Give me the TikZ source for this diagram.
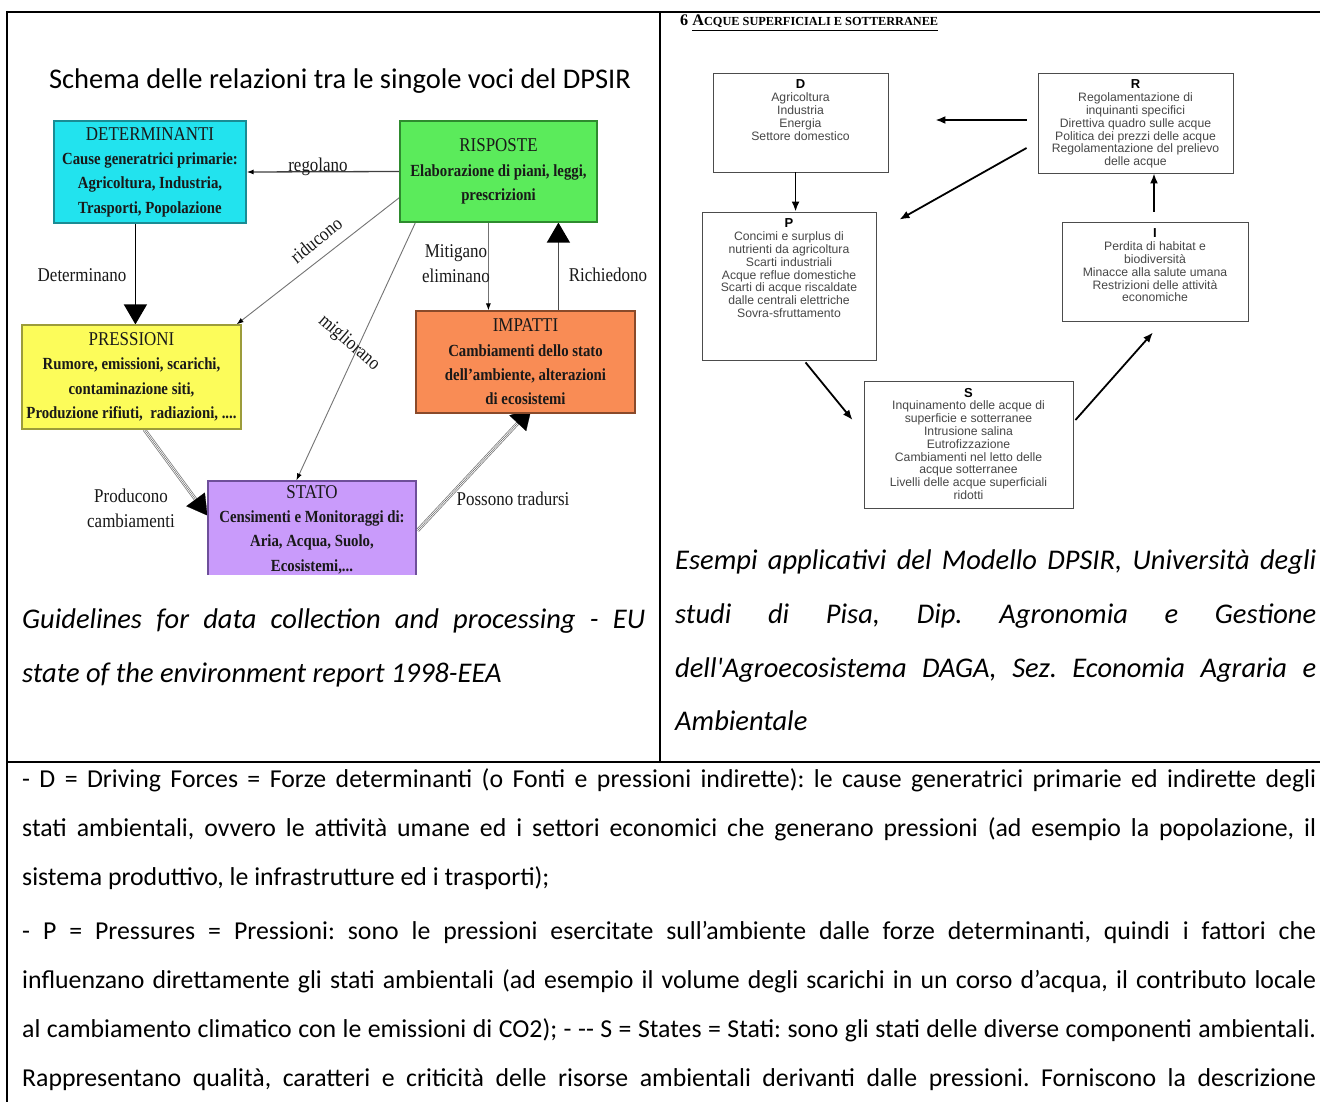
\documentclass[tikz,border=0pt]{standalone}
\usepackage{fontspec}
\usepackage{graphicx}
\setmainfont{Carlito}
\newfontfamily\cserif[FakeStretch=0.87]{Liberation Serif}
\newfontfamily\lserif{Liberation Serif}
\newfontfamily\arialf{Liberation Sans}
\usetikzlibrary{arrows.meta,calc}
\pgfdeclarelayer{background}
\pgfsetlayers{background,main}
\definecolor{cyanbox}{HTML}{22E3EE}
\definecolor{cyanline}{HTML}{1A8C94}
\definecolor{greenbox}{HTML}{5BEB5B}
\definecolor{greenline}{HTML}{2E8B2E}
\definecolor{yellowbox}{HTML}{FCFC5A}
\definecolor{yellowline}{HTML}{9C9C3A}
\definecolor{orangebox}{HTML}{F98C55}
\definecolor{orangeline}{HTML}{8A4A2A}
\definecolor{purplebox}{HTML}{C99BFB}
\definecolor{purpleline}{HTML}{6E4F9A}
\newcommand\hdr[1]{{\mdseries\fontsize{19.5}{24.3}\selectfont #1}}
\frenchspacing
\begin{document}
\begin{tikzpicture}[x=1pt,y=-1pt,
  lbox/.style={draw, line width=1.2pt, inner sep=0pt, align=center,
    font=\cserif\bfseries\fontsize{17}{24.3}\selectfont, text=black!90},
  lbl/.style={font=\cserif\fontsize{19.5}{25}\selectfont, inner sep=0pt, align=center, text=black!90},
  thinarr/.style={draw=black!55, line width=0.9pt, -{Latex[length=7pt,width=5pt,color=black]}},
  bigtip/.style={draw=black, line width=0.2pt, -{Triangle[length=20pt,width=23pt,color=black]}},
  dbl/.style={draw=black!50, line width=0.8pt, double=white, double distance=2pt},
  rbox/.style={draw=black!70, line width=0.9pt, inner sep=0pt,
    font=\arialf\fontsize{12.2}{12.8}\selectfont, text=black!72},
  rarr/.style={draw=black, line width=1.8pt, -{Latex[length=10pt,width=8pt]}},
  body/.style={anchor=base west, inner sep=0pt, font=\fontsize{25.8}{30}\selectfont},
  capt/.style={anchor=base west, inner sep=0pt, font=\itshape\fontsize{28.5}{32}\selectfont}
]
\useasboundingbox (0,0) rectangle (1320,1102);

% ---------------- left diagram ----------------
\node[anchor=base, inner sep=0pt, font=\fontsize{28.5}{32}\selectfont] (ltitle) at (340,89)
  {Schema delle relazioni tra le singole voci del DPSIR};

\node[lbox, fill=cyanbox, draw=cyanline, minimum width=192pt, minimum height=102pt] (DET) at (150,172)
  {\hdr{DETERMINANTI}\\Cause generatrici primarie:\\Agricoltura, Industria,\\Trasporti, Popolazione};
\node[lbox, fill=greenbox, draw=greenline, minimum width=197pt, minimum height=101pt] (RIS) at (498.5,171.5)
  {\hdr{RISPOSTE}\\Elaborazione di piani, leggi,\\prescrizioni};
\node[lbox, fill=yellowbox, draw=yellowline, minimum width=219pt, minimum height=104pt] (PRE) at (131.5,377)
  {\hdr{PRESSIONI}\\Rumore, emissioni, scarichi,\\contaminazione siti,\\Produzione rifiuti,~ radiazioni, ....};
\node[lbox, fill=orangebox, draw=orangeline, minimum width=219pt, minimum height=102pt] (IMP) at (525.5,362)
  {\hdr{IMPATTI}\\Cambiamenti dello stato\\dell’ambiente, alterazioni\\di ecosistemi};
\begin{scope}
  \clip (0,0) rectangle (660,574);
  \node[lbox, fill=purplebox, draw=purpleline, minimum width=208pt, minimum height=97pt] (STA) at (312,529.5)
    {\hdr{STATO}\\Censimenti e Monitoraggi di:\\Aria, Acqua, Suolo,\\Ecosistemi,...};
\end{scope}

\begin{pgfonlayer}{background}
  \fill[white] (0,0) rectangle (1320,1102);
  % regolano
  \draw[thinarr, draw=black!75, line width=1.3pt] (RIS.west) -- (DET.east);
  % determinano
  \draw[bigtip, line width=1.3pt] ($(DET.south west)+(82,0)$) -- ($(PRE.north west)+(114,0)$);
  % riducono
  \draw[thinarr] ($(RIS.south west)+(0,-25)$) -- ($(PRE.north east)+(-5,0)$);
  % migliorano
  \draw[thinarr] ($(RIS.south west)+(16,0)$) -- ($(STA.north west)+(89,0)$);
  % mitigano
  \draw[thinarr] ($(RIS.south west)+(89,0)$) -- ($(IMP.north west)+(73,0)$);
  % richiedono
  \draw[bigtip, line width=1.3pt, draw=black!70] ($(IMP.north west)+(143,0)$) -- ($(RIS.south west)+(159,0)$);
  % producono
  \draw[dbl, shorten >=18pt] ($(PRE.south west)+(123,0)$) -- ($(STA.west)+(0,-14)$);
  \draw[bigtip] ($(PRE.south west)+(123,0)$) -- ($(STA.west)+(0,-14)$);
  % possono tradursi
  \draw[dbl, shorten >=18pt] ($(STA.east)+(1,1)$) -- ($(IMP.south west)+(116,-5)$);
  \draw[bigtip] ($(STA.east)+(1,1)$) -- ($(IMP.south west)+(116,-5)$);
\end{pgfonlayer}

\node[lbl] (lreg) at (318,167) {regolano};
\node[lbl] (ldet) at (82,275) {Determinano};
\node[lbl, rotate=39] (lrid) at (316,240) {riducono};
\node[lbl, rotate=-41] (lmig) at (349,343) {migliorano};
\node[lbl] (lmit) at (456,264) {Mitigano\\eliminano};
\node[lbl] (lric) at (608,275) {Richiedono};
\node[lbl] (lpro) at (131,508) {Producono\\cambiamenti};
\node[lbl] (lpos) at (513,499) {Possono tradursi};

% ---------------- right diagram ----------------
\node[anchor=base west, inner sep=0pt] (rtitle) at (680,26)
  {\resizebox{258pt}{!}{\lserif\bfseries 6 \underline{A{\fontsize{7.6}{9}\selectfont CQUE SUPERFICIALI E SOTTERRANEE}}}};

\node[rbox] (D) at (800.5,122.5) {\parbox[c][99pt][t]{175pt}{\centering\vspace*{7pt}%
  {\color{black}\bfseries\fontsize{13}{12.8}\selectfont D}\\Agricoltura\\Industria\\Energia\\Settore domestico}};
\node[rbox] (R) at (1135.5,123) {\parbox[c][100pt][t]{195pt}{\centering\vspace*{7pt}%
  {\color{black}\bfseries\fontsize{13}{12.8}\selectfont R}\\Regolamentazione di\\inquinanti specifici\\Direttiva quadro sulle acque\\Politica dei prezzi delle acque\\Regolamentazione del prelievo\\delle acque}};
\node[rbox] (P) at (789,286) {\parbox[c][148pt][t]{174pt}{\centering\vspace*{7pt}%
  {\color{black}\bfseries\fontsize{13}{12.8}\selectfont P}\\Concimi e surplus di\\nutrienti da agricoltura\\Scarti industriali\\Acque reflue domestiche\\Scarti di acque riscaldate\\dalle centrali elettriche\\Sovra-sfruttamento}};
\node[rbox] (I) at (1155,271.5) {\parbox[c][99pt][t]{186pt}{\centering\vspace*{7pt}%
  {\color{black}\bfseries\fontsize{13}{12.8}\selectfont I}\\Perdita di habitat e\\biodiversità\\Minacce alla salute umana\\Restrizioni delle attività\\economiche}};
\node[rbox] (S) at (968.5,444.5) {\parbox[c][127pt][t]{209pt}{\centering\vspace*{7pt}%
  {\color{black}\bfseries\fontsize{13}{12.8}\selectfont S}\\Inquinamento delle acque di\\superficie e sotterranee\\Intrusione salina\\Eutrofizzazione\\Cambiamenti nel letto delle\\acque sotterranee\\Livelli delle acque superficiali\\ridotti}};

\draw[rarr] ($(R.west)+(-11,-3)$) -- ($(D.east)+(47,-2.5)$);
\draw[rarr] ($(R.west)+(-11,25)$) -- ($(P.north east)+(23,8)$);
\draw[rarr] ($(D.south west)+(83,0)$) -- ($(P.north west)+(94,0)$);
\draw[rarr] ($(P.south west)+(104,2)$) -- ($(S.west)+(-11,-24.5)$);
\draw[rarr] ($(S.east)+(2,-24.5)$) -- ($(I.south)+(-2,11)$);
\coordinate (ir) at ($(I.north)+(-1,-10)$);
\draw[rarr] (ir) -- (ir |- R.south);

% ---------------- captions ----------------
\node[capt] (c1a) at (22,628) {\makebox[623pt][s]{Guidelines for data collection and processing - EU}};
\node[capt] (c1b) at (22,682) {state of the environment report 1998-EEA};
\node[capt] (c2a) at (675,569) {\makebox[641pt][s]{Esempi applicativi del Modello DPSIR, Università degli}};
\node[capt] (c2b) at (675,623) {\makebox[641pt][s]{studi di Pisa, Dip. Agronomia e Gestione}};
\node[capt] (c2c) at (675,677) {\makebox[641pt][s]{dell\textquotesingle Agroecosistema DAGA, Sez. Economia Agraria e}};
\node[capt] (c2d) at (675,730) {Ambientale};

% ---------------- body text ----------------
\node[body] (t1) at (22,787) {\makebox[1294pt][s]{- D = Driving Forces = Forze determinanti (o Fonti e pressioni indirette): le cause generatrici primarie ed indirette degli}};
\node[body] (t2) at (22,836) {\makebox[1294pt][s]{stati ambientali, ovvero le attività umane ed i settori economici che generano pressioni (ad esempio la popolazione, il}};
\node[body] (t3) at (22,885) {sistema produttivo, le infrastrutture ed i trasporti);};
\node[body] (t4) at (22,939) {\makebox[1294pt][s]{- P = Pressures = Pressioni: sono le pressioni esercitate sull’ambiente dalle forze determinanti, quindi i fattori che}};
\node[body] (t5) at (22,988) {\makebox[1294pt][s]{influenzano direttamente gli stati ambientali (ad esempio il volume degli scarichi in un corso d’acqua, il contributo locale}};
\node[body] (t6) at (22,1037) {\makebox[1294pt][s]{al cambiamento climatico con le emissioni di CO2); - -{}- S = States = Stati: sono gli stati delle diverse componenti ambientali.}};
\node[body] (t7) at (22,1086) {\makebox[1294pt][s]{Rappresentano qualità, caratteri e criticità delle risorse ambientali derivanti dalle pressioni. Forniscono la descrizione}};

% ---------------- table rules ----------------
\draw[line width=2pt] (7,12) -- (1320,12);
\draw[line width=2pt] (7,11) -- (7,1102);
\draw[line width=2pt] (660,12) -- (660,762);
\draw[line width=2pt] (7,762) -- (1320,762);
\end{tikzpicture}
\end{document}
